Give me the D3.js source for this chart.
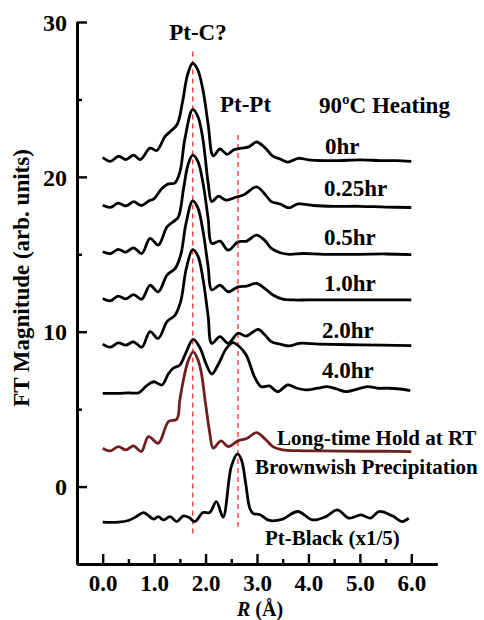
<!DOCTYPE html>
<html>
<head>
<meta charset="utf-8">
<script src="https://cdn.jsdelivr.net/npm/d3@7"></script>
<style>
    body { margin: 0; background: #fff; }
    svg text { font-family: "Liberation Serif", "Times New Roman", serif; font-weight: bold; fill: #000; }
</style>
</head>
<body>
<div id="chart"></div>
<script>
// FT magnitude vs R, each series already shifted by its vertical offset: [R (Å), magnitude]
const hr0 = [[0,21.25],[0.15,21.0],[0.31,21.33],[0.45,21.12],[0.6,21.4],[0.73,21.12],[0.92,21.85],[1.05,21.7],[1.21,22.6],[1.32,22.95],[1.45,23.4],[1.55,24.8],[1.65,26.6],[1.75,27.35],[1.85,26.9],[1.95,25.6],[2.05,23.4],[2.15,21.35],[2.28,21.8],[2.42,21.45],[2.55,21.75],[2.7,21.85],[2.85,21.95],[2.99,22.25],[3.15,21.9],[3.3,21.35],[3.45,21.15],[3.6,20.95],[3.8,21.2],[4.0,21.1],[4.3,21.05],[4.6,21.05],[5.0,21.1],[5.4,21.05],[5.7,21.05],[6.0,21.0]];
const hr025 = [[0,18.17],[0.15,18.03],[0.3,18.3],[0.45,18.12],[0.6,18.4],[0.75,18.15],[0.9,18.45],[1.0,18.6],[1.15,19.25],[1.28,19.55],[1.4,19.6],[1.5,20.3],[1.6,22.5],[1.75,24.35],[1.85,23.9],[1.95,22.4],[2.05,19.6],[2.12,18.4],[2.25,18.75],[2.4,18.5],[2.6,18.7],[2.75,18.85],[2.99,19.35],[3.15,18.9],[3.28,18.4],[3.45,18.25],[3.62,18.0],[3.8,18.25],[4.1,18.15],[4.5,18.1],[5.0,18.1],[5.5,18.05],[6.0,18.02]];
const hr05 = [[0,15.16],[0.15,15.04],[0.3,15.32],[0.45,15.14],[0.6,15.42],[0.76,15.05],[0.92,16.03],[1.08,15.6],[1.25,16.77],[1.37,17.1],[1.47,17.4],[1.57,19.2],[1.66,20.8],[1.75,21.4],[1.85,21.0],[1.95,19.6],[2.05,17.3],[2.12,15.7],[2.28,15.85],[2.44,15.27],[2.63,15.8],[2.8,15.85],[2.99,16.24],[3.15,15.9],[3.28,15.38],[3.45,15.1],[3.63,15.0],[3.9,15.05],[4.3,15.0],[5.0,15.0],[5.5,15.02],[6.0,14.98]];
const hr10 = [[0,12.15],[0.15,12.0],[0.3,12.3],[0.45,12.12],[0.6,12.4],[0.76,12.1],[0.92,13.0],[1.08,12.58],[1.25,13.66],[1.41,14.09],[1.52,15.0],[1.62,17.0],[1.75,18.45],[1.85,18.0],[1.95,16.5],[2.05,14.2],[2.12,12.7],[2.28,13.0],[2.44,12.58],[2.63,12.9],[2.8,12.95],[2.99,13.12],[3.15,12.8],[3.31,12.37],[3.5,12.1],[3.7,12.05],[4.0,12.05],[5.0,12.05],[6.0,12.05]];
const hr20 = [[0,9.2],[0.15,9.0],[0.3,9.28],[0.45,9.13],[0.6,9.35],[0.76,9.0],[0.92,10.0],[1.08,9.57],[1.25,10.65],[1.41,11.08],[1.52,12.0],[1.62,14.0],[1.75,15.3],[1.85,14.9],[1.95,13.4],[2.05,11.0],[2.12,9.25],[2.28,9.68],[2.44,9.25],[2.63,9.9],[2.79,9.72],[3.02,10.15],[3.15,9.8],[3.28,9.35],[3.45,9.2],[3.63,9.08],[3.82,9.25],[4.2,9.2],[5.0,9.15],[6.0,9.1]];
const hr40 = [[0,6.02],[0.3,6.02],[0.5,6.05],[0.7,6.06],[0.85,6.5],[0.99,6.77],[1.15,6.56],[1.28,7.3],[1.37,7.64],[1.5,7.85],[1.6,8.5],[1.76,9.5],[1.9,8.9],[2.0,8.0],[2.12,7.27],[2.25,7.9],[2.4,8.9],[2.53,9.3],[2.66,9.03],[2.79,8.5],[2.95,7.1],[3.08,6.45],[3.24,6.5],[3.4,6.13],[3.6,6.56],[3.78,6.35],[3.98,6.24],[4.18,6.35],[4.37,6.45],[4.55,6.3],[4.73,6.13],[4.95,6.3],[5.15,6.45],[5.35,6.35],[5.56,6.35],[5.78,6.3],[5.98,6.2]];
const holdRT = [[0,2.48],[0.15,2.3],[0.3,2.58],[0.45,2.37],[0.6,2.63],[0.75,2.26],[0.89,3.23],[1.08,2.8],[1.28,4.2],[1.44,4.35],[1.5,5.6],[1.57,6.9],[1.66,8.1],[1.76,8.7],[1.85,8.2],[1.92,7.3],[1.99,5.6],[2.08,3.5],[2.15,2.48],[2.3,2.95],[2.44,2.58],[2.63,2.95],[2.8,3.1],[2.99,3.48],[3.15,3.1],[3.31,2.58],[3.5,2.37],[3.8,2.32],[4.3,2.3],[5.0,2.28],[5.5,2.28],[6.0,2.26]];
const ptBlack = [[0,-2.3],[0.3,-2.3],[0.5,-2.19],[0.65,-1.95],[0.79,-1.68],[0.9,-1.9],[0.99,-2.1],[1.08,-1.94],[1.18,-2.15],[1.31,-1.94],[1.44,-2.26],[1.57,-1.89],[1.68,-2.0],[1.79,-2.26],[1.95,-1.68],[2.08,-1.68],[2.21,-0.97],[2.34,-1.97],[2.5,1.29],[2.62,2.11],[2.7,1.7],[2.78,0.2],[2.86,-1.4],[2.93,-1.75],[3.05,-1.8],[3.24,-2.19],[3.5,-2.1],[3.79,-1.61],[4.08,-2.15],[4.34,-1.94],[4.56,-1.5],[4.79,-2.04],[5.02,-1.83],[5.21,-2.04],[5.37,-1.61],[5.63,-1.89],[5.82,-2.26],[5.95,-2.04]];

const seriesList = [hr0, hr025, hr05, hr10, hr20, hr40, holdRT, ptBlack];
const seriesColors = ["#000", "#000", "#000", "#000", "#000", "#000", "#6e1f1f", "#000"];

// reference lines: [R, top, bottom]
const refLines = [[1.75, 28.1, -3.1], [2.63, 22.7, -2.6]];

const xMajorTicks = [0, 1, 2, 3, 4, 5, 6];
const xMinorTicks = [0.5, 1.5, 2.5, 3.5, 4.5, 5.5];
const yMajorTicks = [0, 10, 20, 30];
const yMinorTicks = [5, 15, 25];

const width = 484, height = 620;
const margin = { top: 22, left: 77 };
const plotW = 360, plotH = 542;

const svg = d3.select("#chart").append("svg")
    .attr("width", width)
    .attr("height", height);

const g = svg.append("g")
    .attr("transform", "translate(" + margin.left + "," + margin.top + ")");

const x = d3.scaleLinear().domain([-0.5, 6.5]).range([0, plotW]);
const y = d3.scaleLinear().domain([-5, 30]).range([plotH, 0]);

// Axes (ticks point inward)
const yAxis = d3.axisLeft(y).tickValues(yMajorTicks).tickSize(-10).tickSizeOuter(0).tickPadding(10).tickFormat(d3.format("d"));
const yMinor = d3.axisLeft(y).tickValues(yMinorTicks).tickSize(-5).tickSizeOuter(0).tickFormat("");
const xAxis = d3.axisBottom(x).tickValues(xMajorTicks).tickSize(-10).tickSizeOuter(0).tickFormat(d3.format(".1f"));
const xMinor = d3.axisBottom(x).tickValues(xMinorTicks).tickSize(-5).tickSizeOuter(0).tickFormat("");

function styleAxis(sel) {
    sel.select(".domain").attr("stroke", "#000").attr("stroke-width", 2.8);
    sel.selectAll(".tick line").attr("stroke", "#000").attr("stroke-width", 2.4);
    sel.selectAll("text").style("font-size", "24px").attr("fill", "#000");
}

g.append("g").call(yMinor).call(styleAxis);
g.append("g").call(yAxis).call(styleAxis)
    .selectAll("text").attr("dy", "0.34em");

g.append("g").attr("transform", "translate(0," + plotH + ")").call(xMinor).call(styleAxis);
g.append("g").attr("transform", "translate(0," + plotH + ")").call(xAxis).call(styleAxis)
    .selectAll("text").style("font-size", "23px").attr("y", 11).attr("dy", "0.71em");

// dashed reference lines
g.selectAll(".ref")
    .data(refLines)
    .enter().append("line")
    .attr("class", "ref")
    .attr("x1", d => x(d[0]))
    .attr("x2", d => x(d[0]))
    .attr("y1", d => y(d[1]))
    .attr("y2", d => y(d[2]))
    .attr("stroke", "#ff3030")
    .attr("stroke-width", 1.3)
    .attr("stroke-dasharray", "5,4");

// curves
const line = d3.line()
    .x(d => x(d[0]))
    .y(d => y(d[1]))
    .curve(d3.curveCatmullRom.alpha(0.5));

g.selectAll(".curve")
    .data(seriesList)
    .enter().append("path")
    .attr("class", "curve")
    .attr("d", line)
    .attr("fill", "none")
    .attr("stroke", (d, i) => seriesColors[i])
    .attr("stroke-width", 2.8)
    .attr("stroke-linejoin", "round");

// annotations (pixel positions in the full svg)
const notes = [
    { t: "Pt-C?", x: 198, y: 40, size: 23, anchor: "middle" },
    { t: "Pt-Pt", x: 220, y: 112, size: 23 },
    { t: "90ºC Heating", x: 319, y: 113, size: 23 },
    { t: "0hr", x: 325, y: 154, size: 23 },
    { t: "0.25hr", x: 324, y: 196, size: 23 },
    { t: "0.5hr", x: 324, y: 245, size: 23 },
    { t: "1.0hr", x: 324, y: 291, size: 23 },
    { t: "2.0hr", x: 322, y: 338, size: 23 },
    { t: "4.0hr", x: 322, y: 378, size: 23 },
    { t: "Long-time Hold at RT", x: 277, y: 445, size: 21 },
    { t: "Brownwish Precipitation", x: 255, y: 474, size: 21 },
    { t: "Pt-Black (x1/5)", x: 265, y: 545, size: 21 }
];

svg.selectAll(".note")
    .data(notes)
    .enter().append("text")
    .attr("class", "note")
    .attr("x", d => d.x)
    .attr("y", d => d.y)
    .attr("text-anchor", d => d.anchor || "start")
    .style("font-size", d => d.size + "px")
    .text(d => d.t);

// axis titles
svg.append("text")
    .attr("transform", "translate(29,278) rotate(-90)")
    .attr("text-anchor", "middle")
    .style("font-size", "23px")
    .text("FT Magnitude (arb. units)");

const xTitle = svg.append("text")
    .attr("x", 260)
    .attr("y", 615.5)
    .attr("text-anchor", "middle")
    .style("font-size", "20px");
xTitle.append("tspan").style("font-style", "italic").text("R");
xTitle.append("tspan").text(" (Å)");
</script>
</body>
</html>
